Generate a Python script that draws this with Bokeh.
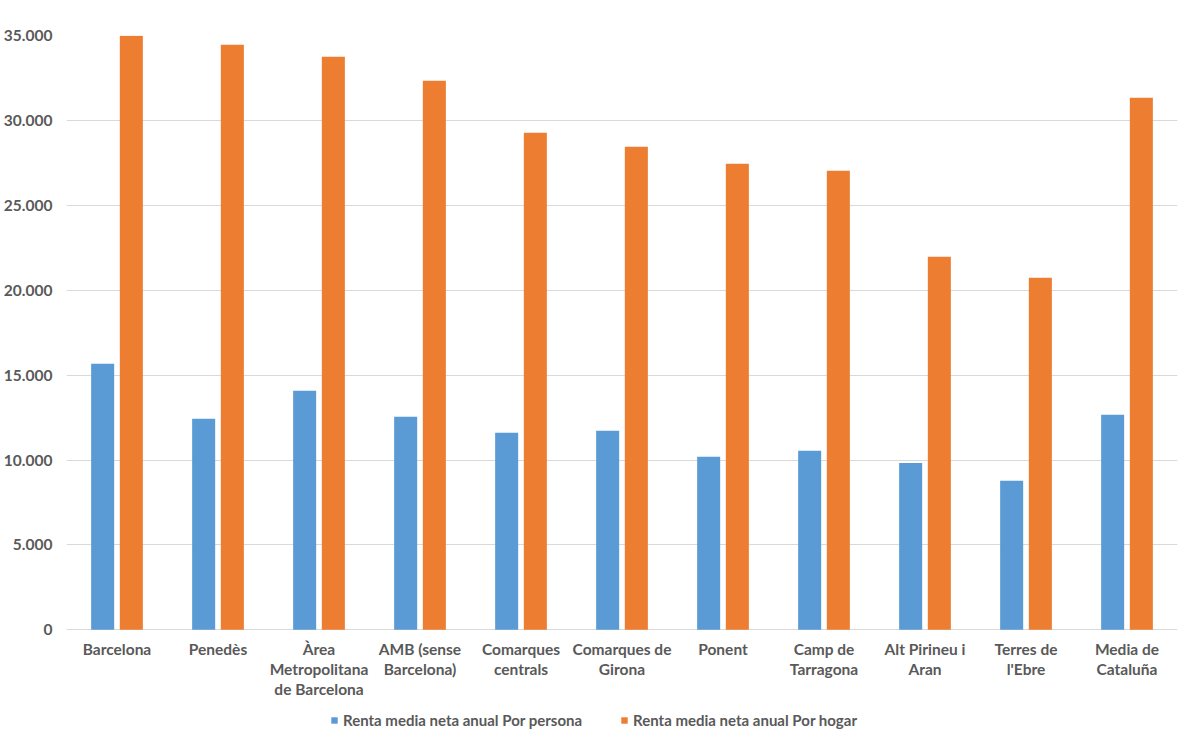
from bokeh.plotting import figure
from bokeh.models import ColumnDataSource, FixedTicker, Legend, LegendItem, FactorRange
from bokeh.core.properties import value
from bokeh.transform import dodge
from bokeh.embed import file_html
from bokeh.resources import INLINE

categories = ["Barcelona", "Penedès", "Àrea Metropolitana de Barcelona", "AMB (sense Barcelona)",
              "Comarques centrals", "Comarques de Girona", "Ponent", "Camp de Tarragona",
              "Alt Pirineu i Aran", "Terres de l'Ebre", "Media de Cataluña"]
category_labels = ["Barcelona", "Penedès", "Àrea\nMetropolitana\nde Barcelona", "AMB (sense\nBarcelona)",
                   "Comarques\ncentrals", "Comarques de\nGirona", "Ponent", "Camp de\nTarragona",
                   "Alt Pirineu i\nAran", "Terres de\nl'Ebre", "Media de\nCataluña"]
por_persona = [15670, 12430, 14080, 12540, 11600, 11720, 10190, 10540, 9830, 8780, 12660]
por_hogar = [34980, 34450, 33750, 32330, 29270, 28450, 27440, 27030, 21970, 20730, 31330]
series_names = ["Renta media neta anual Por persona", "Renta media neta anual Por hogar"]
y_ticks = [0, 5000, 10000, 15000, 20000, 25000, 30000, 35000]
y_tick_labels = ["0", "5.000", "10.000", "15.000", "20.000", "25.000", "30.000", "35.000"]

BLUE = "#5B9BD5"
ORANGE = "#ED7D31"
TEXT = "#595959"
FONT = "Lato"

W, H = 1180, 734
LEFT, TOP, RIGHT = 65, 35, 3
FRAME_H = H - TOP
PX_TO_MAX = 594.3                      # pixels between 0 and 35000
units_per_px = 35000 / PX_TO_MAX
y_start = -(FRAME_H - PX_TO_MAX) * units_per_px
label_y = -10 * units_per_px           # top of the category labels, under the baseline

source = ColumnDataSource(dict(cat=categories, persona=por_persona, hogar=por_hogar,
                               label=category_labels, ly=[label_y] * len(categories)))

p = figure(x_range=FactorRange(*categories, range_padding=0), y_range=(y_start, 35000),
           width=W, height=H, output_backend="svg", toolbar_location=None,
           min_border_left=LEFT, min_border_right=RIGHT, min_border_top=TOP, min_border_bottom=0)

r1 = p.vbar(x=dodge("cat", -0.142, range=p.x_range), top="persona", width=0.228,
            source=source, color=BLUE, line_color=None)
r2 = p.vbar(x=dodge("cat", 0.142, range=p.x_range), top="hogar", width=0.228,
            source=source, color=ORANGE, line_color=None)

p.text(x="cat", y="ly", text="label", source=source, text_align="center", text_baseline="top",
       text_font=value(FONT), text_font_style="bold", text_font_size="15.5px",
       text_color=TEXT, text_line_height=1.11)

p.outline_line_color = None
p.background_fill_color = "white"
p.border_fill_color = "white"

p.xgrid.grid_line_color = None
p.ygrid.grid_line_color = "#D9D9D9"
p.ygrid.grid_line_width = 1
p.ygrid.ticker = FixedTicker(ticks=y_ticks)

p.xaxis.visible = False

p.yaxis.ticker = FixedTicker(ticks=y_ticks)
p.yaxis.major_label_overrides = {t: l for t, l in zip(y_ticks, y_tick_labels)}
p.yaxis.axis_line_color = None
p.yaxis.major_tick_line_color = None
p.yaxis.minor_tick_line_color = None
p.yaxis.major_tick_out = 0
p.yaxis.major_tick_in = 0
p.yaxis.minor_tick_out = 0
p.yaxis.minor_tick_in = 0
p.yaxis.major_label_standoff = 14
p.yaxis.major_label_text_font = FONT
p.yaxis.major_label_text_font_style = "bold"
p.yaxis.major_label_text_font_size = "15.5px"
p.yaxis.major_label_text_color = TEXT

legend = Legend(items=[LegendItem(label=series_names[0], renderers=[r1]),
                       LegendItem(label=series_names[1], renderers=[r2])],
                orientation="horizontal", location=(264, 5),
                label_text_font=FONT, label_text_font_style="bold",
                label_text_font_size="15px", label_text_color=TEXT,
                glyph_width=8, glyph_height=8, label_standoff=5, spacing=38,
                padding=2, margin=0, border_line_color=None, background_fill_alpha=0)
p.add_layout(legend, "center")

open("out.html", "w").write(file_html(p, INLINE))
